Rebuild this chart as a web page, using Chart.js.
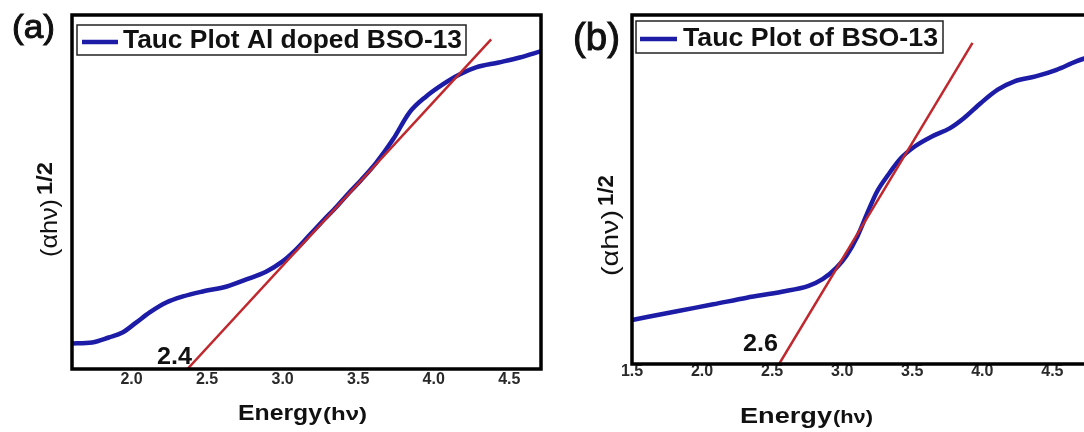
<!DOCTYPE html>
<html>
<head>
<meta charset="utf-8">
<title>Tauc plots</title>
<script src="https://cdn.jsdelivr.net/npm/chart.js@4.4.1/dist/chart.umd.min.js"></script>
<style>
html, body { margin: 0; padding: 0; background: #fff; overflow: hidden; width: 1084px; height: 432px; }
#boxA { position: absolute; left: 0; top: 0; width: 545px; height: 432px; }
#boxB { position: absolute; left: 545px; top: 0; width: 560px; height: 432px; }
</style>
</head>
<body>
<div id="boxA"><canvas id="chartA"></canvas></div>
<div id="boxB"><canvas id="chartB"></canvas></div>
<script>
// ---- data (y in arbitrary units 0..100) ----
var energyA = [1.60, 1.74, 1.85, 1.94, 2.03, 2.12, 2.23, 2.34, 2.47, 2.63, 2.76, 2.89, 3.00, 3.09, 3.18, 3.27, 3.36, 3.44, 3.52, 3.62, 3.73, 3.84, 3.95, 4.06, 4.17, 4.28, 4.43, 4.57, 4.71];
var tauA    = [7.2, 7.5, 8.9, 10.3, 13.1, 16.0, 18.8, 20.5, 21.9, 23.3, 25.3, 27.5, 30.4, 33.8, 37.9, 42.0, 46.0, 49.8, 53.4, 58.3, 64.8, 72.5, 77.0, 80.4, 83.2, 85.2, 86.6, 88.0, 89.8];
var fitAx = [2.37, 4.38];
var fitAy = [0, 93.1];
var ticksA = [2.0, 2.5, 3.0, 3.5, 4.0, 4.5];

var energyB = [1.51, 1.83, 2.08, 2.32, 2.57, 2.76, 2.86, 2.96, 3.03, 3.11, 3.18, 3.25, 3.33, 3.42, 3.52, 3.64, 3.77, 3.87, 3.99, 4.11, 4.23, 4.38, 4.53, 4.67, 4.84];
var tauB    = [12.7, 15.2, 17.1, 19.0, 20.7, 22.4, 24.3, 27.6, 31.0, 36.7, 43.3, 49.5, 54.3, 59.0, 62.4, 65.2, 67.6, 70.5, 74.8, 78.6, 81.0, 82.4, 84.3, 86.7, 89.0];
var fitBx = [2.55, 3.93];
var fitBy = [0, 92.0];
var ticksB = [1.5, 2.0, 2.5, 3.0, 3.5, 4.0, 4.5];

var FONT = "'Liberation Sans', Arial, sans-serif";
var BLUE = '#1d1ca6';
var RED = '#c0282e';

function pts(xs, ys) {
    var out = [];
    for (var i = 0; i < xs.length; i++) out.push({x: xs[i], y: ys[i]});
    return out;
}

// text squeezed/stretched to a given width
function txt(ctx, s, x, y, font, w, heavy) {
    ctx.save();
    ctx.font = font;
    var m = ctx.measureText(s).width;
    ctx.translate(x, y);
    ctx.scale(w ? w / m : 1, 1);
    ctx.textBaseline = 'alphabetic';
    ctx.fillStyle = '#111';
    ctx.fillText(s, 0, 0);
    if (heavy) {
        ctx.strokeStyle = '#111';
        ctx.lineWidth = heavy;
        ctx.strokeText(s, 0, 0);
    }
    ctx.restore();
}

function vtxt(ctx, s, x, y, font, len) {
    ctx.save();
    ctx.translate(x, y);
    ctx.rotate(-Math.PI / 2);
    txt(ctx, s, 0, 0, font, len);
    ctx.restore();
}

// frame, legend and labels of one panel (coordinates are page pixels)
function makeDecor(c) {
    return {
        id: 'decor',
        afterDatasetsDraw: function(chart) {
            var ctx = chart.ctx, a = chart.chartArea, o = c.off;
            ctx.save();
            ctx.strokeStyle = '#000';
            ctx.lineWidth = 3.5;
            ctx.strokeRect(a.left, a.top, a.right - a.left, a.bottom - a.top);

            // legend
            var b = c.legend;
            ctx.fillStyle = '#fff';
            ctx.fillRect(b.x0 - o, b.y0, b.x1 - b.x0, b.y1 - b.y0);
            ctx.strokeStyle = '#222';
            ctx.lineWidth = 1.5;
            ctx.strokeRect(b.x0 - o, b.y0, b.x1 - b.x0, b.y1 - b.y0);
            ctx.strokeStyle = BLUE;
            ctx.lineWidth = 4.5;
            ctx.beginPath();
            ctx.moveTo(b.lx0 - o, b.ly);
            ctx.lineTo(b.lx1 - o, b.ly);
            ctx.stroke();
            txt(ctx, c.legendText, b.tx - o, b.ty, 'bold 25px ' + FONT, b.tw);

            // panel letter
            txt(ctx, c.panel, c.px - o, c.py, c.pfont + ' ' + FONT, c.pw, 1);
            // intercept value
            txt(ctx, c.cut, c.cx - o, c.cy, 'bold 23px ' + FONT, 35);
            // x title
            txt(ctx, 'Energy', c.ex - o, c.ey, 'bold 22px ' + FONT, c.ew);
            txt(ctx, '(h\u03bd)', c.ex + c.ew + 1 - o, c.ey, 'bold 18px ' + FONT, c.hw);
            // y title
            vtxt(ctx, '(\u03b1h\u03bd)', c.yx - o, c.y0, '24px ' + FONT, c.yl);
            vtxt(ctx, '1/2', c.yx - 5 - o, c.y0 - c.yl - 4, 'bold 22px ' + FONT, c.sl);
            ctx.restore();
        }
    };
}

function makeChart(id, xs, ys, fx, fy, tickList, xmin, xmax, pad, xHeight, tickPad, decor) {
    new Chart(document.getElementById(id), {
        type: 'line',
        data: {
            datasets: [{
                label: 'fit',
                data: pts(fx, fy),
                borderColor: RED,
                borderWidth: 2.5,
                pointRadius: 0,
                order: 0
            }, {
                label: 'tauc',
                data: pts(xs, ys),
                borderColor: BLUE,
                borderWidth: 4.5,
                pointRadius: 0,
                cubicInterpolationMode: 'monotone',
                borderCapStyle: 'round',
                borderJoinStyle: 'round',
                order: 1
            }]
        },
        options: {
            responsive: true,
            maintainAspectRatio: false,
            animation: false,
            events: [],
            layout: { padding: pad },
            plugins: { legend: { display: false }, tooltip: { enabled: false } },
            scales: {
                x: {
                    type: 'linear',
                    min: xmin,
                    max: xmax,
                    grid: { display: false, drawTicks: false },
                    border: { display: false },
                    afterBuildTicks: function(s) {
                        s.ticks = tickList.map(function(v) { return {value: v}; });
                    },
                    afterFit: function(s) { s.height = xHeight; },
                    ticks: {
                        padding: tickPad,
                        color: '#2a2a2a',
                        font: { family: FONT, size: 16, weight: 'bold' },
                        maxRotation: 0,
                        callback: function(v) { return Number(v).toFixed(1); }
                    }
                },
                y: { min: 0, max: 100, display: false }
            }
        },
        plugins: [decor]
    });
}

makeChart('chartA', energyA, tauA, fitAx, fitAy, ticksA, 1.606, 4.71,
    {left: 72, right: 4, top: 15, bottom: 0}, 63, 1,
    makeDecor({
        off: 0,
        legend: {x0: 77, y0: 25, x1: 466, y1: 55, lx0: 82, lx1: 118, ly: 42, tx: 123, ty: 48, tw: 339},
        legendText: 'Tauc Plot Al doped BSO-13',
        panel: '(a)', px: 12, py: 38, pfont: '34px', pw: 43,
        cut: '2.4', cx: 157, cy: 364,
        ex: 238, ey: 420, ew: 84, hw: 44,
        yx: 57, y0: 257, yl: 58, sl: 33
    }));

makeChart('chartB', energyB, tauB, fitBx, fitBy, ticksB, 1.5, 4.84,
    {left: 87, right: 5, top: 15, bottom: 0}, 68, -2,
    makeDecor({
        off: 545,
        legend: {x0: 636, y0: 21, x1: 943, y1: 53, lx0: 640, lx1: 677, ly: 39, tx: 683, ty: 46, tw: 255},
        legendText: 'Tauc Plot of BSO-13',
        panel: '(b)', px: 573, py: 50, pfont: '38px', pw: 47,
        cut: '2.6', cx: 743, cy: 351,
        ex: 740, ey: 423, ew: 92, hw: 40,
        yx: 618, y0: 276, yl: 66, sl: 31
    }));
</script>
</body>
</html>
